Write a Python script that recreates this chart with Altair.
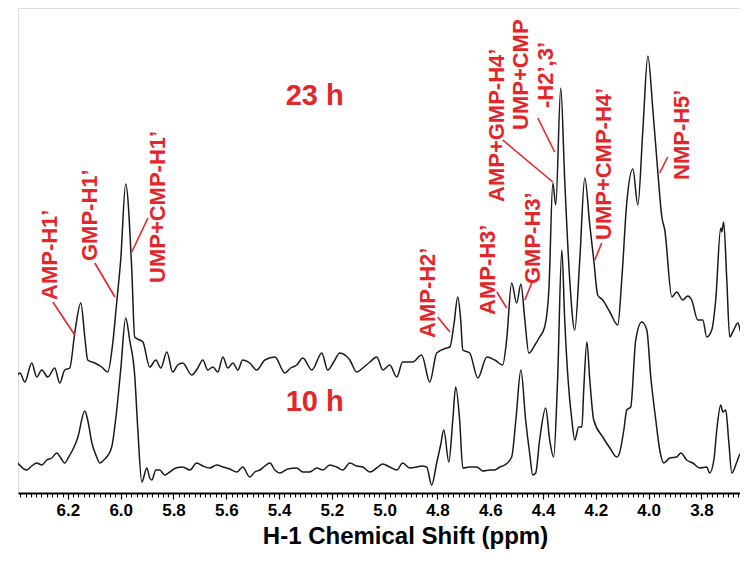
import altair as alt
import pandas as pd

RED = "#e3262a"
FONT = "Liberation Sans"

# ---- 23 h spectrum (chemical shift in ppm, intensity in arbitrary units) ----
ppm_23h = [6.401, 6.382, 6.363, 6.337, 6.318, 6.299, 6.276, 6.250, 6.231, 6.212,
           6.193, 6.174, 6.151, 6.136, 6.125, 6.098, 6.072, 6.049, 6.030, 6.015,
           6.000, 5.981, 5.958, 5.947, 5.928, 5.916, 5.890, 5.867, 5.848, 5.825,
           5.803, 5.784, 5.765, 5.731, 5.708, 5.689, 5.670, 5.651, 5.632, 5.613,
           5.594, 5.575, 5.556, 5.538, 5.511, 5.485, 5.454, 5.416, 5.378, 5.356,
           5.333, 5.310, 5.276, 5.238, 5.216, 5.193, 5.170, 5.132, 5.106, 5.083,
           5.056, 5.030, 5.007, 4.981, 4.954, 4.932, 4.894, 4.860, 4.829, 4.803,
           4.765, 4.753, 4.738, 4.723, 4.712, 4.704, 4.678, 4.647, 4.613, 4.583,
           4.553, 4.538, 4.519, 4.500, 4.484, 4.469, 4.454, 4.431, 4.413, 4.394,
           4.378, 4.363, 4.352, 4.333, 4.318, 4.299, 4.280, 4.261, 4.242, 4.223,
           4.208, 4.193, 4.174, 4.147, 4.117, 4.102, 4.083, 4.060, 4.041, 4.022,
           4.003, 3.984, 3.965, 3.950, 3.939, 3.912, 3.894, 3.871, 3.852, 3.837,
           3.814, 3.795, 3.780, 3.761, 3.746, 3.727, 3.723, 3.716, 3.704, 3.693,
           3.678, 3.662, 3.647, 3.628]
int_23h = [-12, -5, -14, 5, -9, -2, -9, 0, -15, -2,
           0, 35, 65, 31, 8, 5, 1, -4, 25, 66,
           108, 184, 98, 31, 28, 26, 1, 8, 0, 16,
           -4, 3, 5, -7, 0, 8, -2, 1, -4, 11,
           0, 5, -2, 8, 5, -2, 8, 11, -5, 0,
           3, 10, -2, 15, -2, 6, 15, 8, -4, 0,
           6, 11, -2, 3, -9, 6, 6, 13, -14, 15,
           20, 21, 43, 71, 48, 18, 15, -10, 11, 8,
           3, 28, 85, 65, 84, 48, 15, 23, 31, 41,
           78, 185, 163, 280, 188, 88, 38, 108, 190, 143,
           108, 73, 68, 56, 43, 88, 165, 199, 163, 238,
           312, 258, 195, 151, 138, 71, 76, 68, 72, 68,
           48, 48, 31, 38, 68, 140, 136, 146, 88, 31,
           38, 45, 33, 35]

# ---- 10 h spectrum ----
ppm_10h = [6.390, 6.356, 6.337, 6.318, 6.299, 6.280, 6.261, 6.242, 6.227, 6.212,
           6.197, 6.182, 6.163, 6.136, 6.125, 6.109, 6.094, 6.079, 6.064, 6.053,
           6.034, 6.015, 6.000, 5.981, 5.966, 5.947, 5.935, 5.920, 5.901, 5.890,
           5.882, 5.867, 5.852, 5.833, 5.814, 5.791, 5.765, 5.738, 5.712, 5.689,
           5.663, 5.636, 5.613, 5.587, 5.560, 5.538, 5.511, 5.492, 5.473, 5.454,
           5.435, 5.416, 5.397, 5.367, 5.333, 5.310, 5.284, 5.257, 5.234, 5.208,
           5.182, 5.159, 5.132, 5.106, 5.083, 5.056, 5.030, 5.007, 4.981, 4.954,
           4.932, 4.905, 4.878, 4.860, 4.841, 4.822, 4.803, 4.788, 4.776, 4.757,
           4.742, 4.731, 4.716, 4.704, 4.678, 4.651, 4.628, 4.602, 4.583, 4.564,
           4.545, 4.519, 4.503, 4.484, 4.466, 4.450, 4.439, 4.428, 4.413, 4.390,
           4.375, 4.360, 4.345, 4.329, 4.318, 4.306, 4.291, 4.280, 4.265, 4.253,
           4.246, 4.234, 4.223, 4.208, 4.174, 4.147, 4.121, 4.113, 4.094, 4.083,
           4.068, 4.049, 4.026, 4.007, 3.992, 3.973, 3.958, 3.943, 3.920, 3.894,
           3.878, 3.856, 3.833, 3.806, 3.780, 3.769, 3.753, 3.742, 3.727, 3.719,
           3.708, 3.697, 3.685, 3.666, 3.651, 3.636, 3.625]
int_10h = [4, -3, 1, 4, 2, 7, 9, 14, 9, 4,
           10, 17, 29, 56, 47, 24, 12, 4, 7, 10,
           20, 57, 97, 149, 127, 92, 37, -15, -1, -11,
           -13, -3, -3, -8, -5, -1, 0, -3, 4, 1,
           -1, 2, 0, -2, -5, 0, -10, -5, -3, 1,
           4, -3, -6, -2, -1, -5, -5, -1, -3, 2,
           0, -3, 4, 1, 0, -5, -1, 3, 0, -3,
           4, -1, 0, 1, 0, -18, 4, 22, 37, 5,
           47, 80, 47, -1, 0, 0, -4, -3, -3, 0,
           2, 10, 47, 97, 47, 12, -8, -6, 27, 59,
           27, 10, 87, 217, 147, 90, 47, 27, 40, 40,
           77, 125, 87, 47, 30, 19, 10, 12, 37, 57,
           60, 127, 145, 137, 90, 47, 17, 4, 9, 10,
           14, 7, 4, -1, 0, -6, 7, 37, 62, 55,
           57, 27, -6, 5, 14, 9, 7]

# vertical stacking offsets of the two spectra
offset_23h = 125
offset_10h = 26

# ---- peak assignments ----
label_text = ["AMP-H1\u2019", "GMP-H1\u2019", "UMP+CMP-H1\u2019", "AMP-H2\u2019",
              "AMP-H3\u2019", "GMP-H3\u2019", "AMP+GMP-H4\u2019", "UMP+CMP",
              "-H2\u2019,3\u2019", "UMP+CMP-H4\u2019", "NMP-H5\u2019"]
label_ppm = [6.268, 6.117, 5.860, 4.837, 4.610, 4.439, 4.575, 4.484, 4.390, 4.170, 3.874]
label_int = [193, 232, 210, 155, 178, 209, 291, 363, 385, 253, 313]

# leader lines: label end -> peak
lead_ppm1 = [6.257, 6.098, 5.897, 4.799, 4.575, 4.443, 4.553, 4.420, 4.178, 3.928]
lead_int1 = [191, 230, 275, 176, 201, 210, 353, 375, 250, 336]
lead_ppm2 = [6.174, 6.022, 5.958, 4.753, 4.538, 4.469, 4.363, 4.356, 4.204, 3.958]
lead_int2 = [158, 196, 241, 161, 185, 193, 311, 341, 233, 320]

time_text = ["23 h", "10 h"]
time_ppm = [5.265, 5.265]
time_int = [397, 91]

x_min, x_max = 3.654, 6.389
major_ticks = [3.8, 4.0, 4.2, 4.4, 4.6, 4.8, 5.0, 5.2, 5.4, 5.6, 5.8, 6.0, 6.2]
minor_ticks = [round(3.66 + 0.02 * i, 2) for i in range(137)]

spec = pd.concat([
    pd.DataFrame({"ppm": ppm_23h, "y": [v + offset_23h for v in int_23h], "series": "23 h"}),
    pd.DataFrame({"ppm": ppm_10h, "y": [v + offset_10h for v in int_10h], "series": "10 h"}),
])
labels = pd.DataFrame({"ppm": label_ppm, "y": label_int, "text": label_text})
leaders = pd.DataFrame({"p1": lead_ppm1, "y1": lead_int1, "p2": lead_ppm2, "y2": lead_int2})
times = pd.DataFrame({"ppm": time_ppm, "y": time_int, "text": time_text})
minor_df = pd.DataFrame({"ppm": minor_ticks})

xscale = alt.Scale(domain=[x_min, x_max], reverse=True, nice=False, zero=False)
yscale = alt.Scale(domain=[0, 485], nice=False, zero=False)

x_axis = alt.Axis(
    title="H-1 Chemical Shift (ppm)", orient="bottom",
    values=major_ticks, format=".1f",
    grid=False, domainColor="black", domainWidth=2, tickColor="black", tickWidth=1.2,
    tickSize=6, labelPadding=3, labelFont=FONT, labelFontSize=17, labelFontWeight="bold",
    labelColor="black", labelOverlap=False, labelFlush=False,
    titleFont=FONT, titleFontSize=24, titleFontWeight="bold", titleColor="black",
    titleX=387, titleY=50, titleAlign="center", titleBaseline="alphabetic",
)
minor_axis = alt.Axis(
    title=None, orient="bottom", values=minor_ticks, labels=False, grid=False, domain=False,
    tickColor="black", tickWidth=1, tickSize=4,
)

lines = alt.Chart(spec).mark_line(color="#1a1a1a", strokeWidth=1.5, interpolate="monotone", clip=True).encode(
    x=alt.X("ppm:Q", scale=xscale, axis=x_axis),
    y=alt.Y("y:Q", scale=yscale, axis=None),
    detail="series:N",
)

lead = alt.Chart(leaders).mark_rule(color=RED, strokeWidth=1.6).encode(
    x=alt.X("p1:Q", scale=xscale), y=alt.Y("y1:Q", scale=yscale),
    x2="p2:Q", y2="y2:Q",
)

lab = alt.Chart(labels).mark_text(
    angle=270, align="left", baseline="middle", font=FONT, fontSize=22,
    fontWeight="bold", color=RED,
).encode(x=alt.X("ppm:Q", scale=xscale), y=alt.Y("y:Q", scale=yscale), text="text:N")

tl = alt.Chart(times).mark_text(
    align="center", baseline="middle", font=FONT, fontSize=29, fontWeight="bold", color=RED,
).encode(x=alt.X("ppm:Q", scale=xscale), y=alt.Y("y:Q", scale=yscale), text="text:N")

minor = alt.Chart(minor_df).mark_point(opacity=0, size=1).encode(
    x=alt.X("ppm:Q", scale=xscale, axis=minor_axis),
    y=alt.value(480),
)

main = alt.layer(lines, lead, lab, tl)

chart = alt.layer(main, minor).resolve_scale(x="independent").properties(
    width=722, height=485,
    autosize=alt.AutoSizeParams(type="none"),
    padding={"left": 10, "top": 0, "right": 0, "bottom": 62},
).configure_view(stroke=None).configure(background="white")

chart.save("out.html", embed_options={"renderer": "svg", "actions": False})
